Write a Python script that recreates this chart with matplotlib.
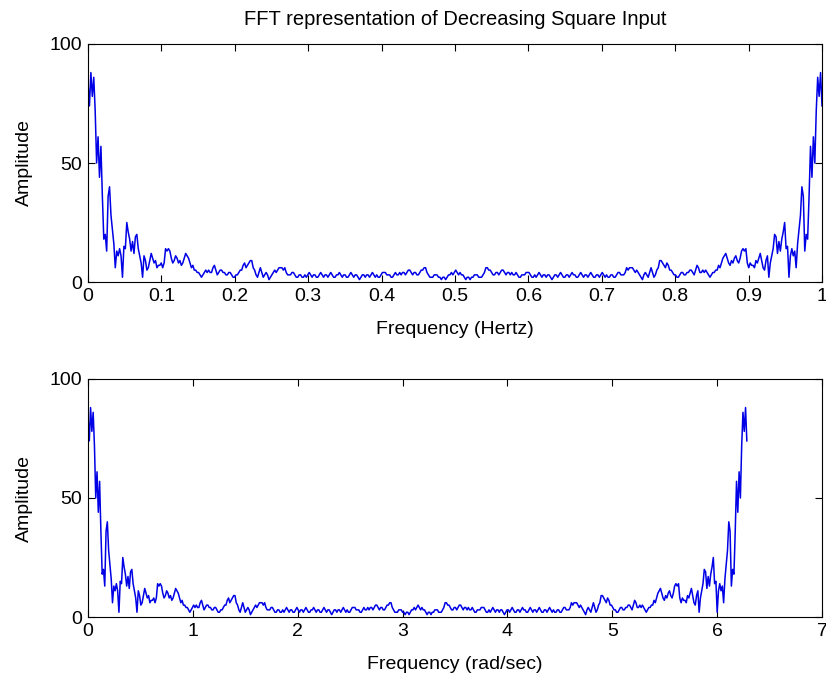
import numpy as np
import matplotlib
matplotlib.use("Agg")
import matplotlib.pyplot as plt

# FFT magnitude of the decreasing square input, bins 0..N/2 (N = 512).
# The spectrum of a real signal is conjugate-symmetric, so the upper half
# of the bins mirrors these values.
half_amplitude = [
    84, 74, 88, 78, 86, 72, 50, 61, 44, 57,
    36, 18, 20, 13, 36, 40, 28, 22, 16, 6,
    13, 11, 14, 11, 2, 15, 14, 25, 21, 18,
    13, 17, 12, 19, 20, 14, 11, 8, 2, 11,
    9, 5, 6, 9, 12, 10, 8, 9, 6, 7,
    7, 8, 6, 8, 14, 13, 14, 13, 10, 8,
    9, 11, 10, 8, 9, 7, 8, 10, 12, 11,
    10, 8, 6, 7, 5, 5, 4, 4, 3, 2,
    3, 4, 5, 4, 5, 4, 4, 6, 7, 5,
    3, 4, 5, 5, 4, 4, 3, 3, 4, 4,
    3, 2, 2, 3, 3, 4, 5, 5, 7, 8,
    6, 7, 8, 9, 9, 6, 5, 3, 2, 4,
    6, 4, 2, 3, 4, 3, 1, 2, 3, 4,
    5, 4, 5, 6, 6, 6, 5, 6, 4, 3,
    3, 3, 4, 4, 3, 2, 2, 3, 3, 2,
    2, 3, 2, 3, 4, 3, 2, 3, 3, 2,
    2, 3, 4, 3, 2, 3, 3, 2, 3, 4,
    3, 2, 2, 3, 3, 4, 3, 2, 3, 3,
    2, 2, 3, 4, 3, 2, 3, 3, 2, 1,
    2, 3, 3, 2, 3, 3, 2, 3, 4, 3,
    2, 3, 2, 2, 3, 4, 4, 4, 3, 3,
    3, 2, 2, 3, 4, 3, 3, 4, 3, 4,
    4, 3, 4, 5, 5, 4, 3, 4, 4, 3,
    3, 4, 5, 5, 6, 6, 4, 3, 2, 2,
    2, 3, 3, 3, 2, 2, 1, 2, 2, 1,
    2, 3, 3, 4, 3, 4, 5,
]

hz_ticks = [0, 0.1, 0.2, 0.3, 0.4, 0.5, 0.6, 0.7, 0.8, 0.9, 1]
hz_tick_labels = ["0", "0.1", "0.2", "0.3", "0.4", "0.5", "0.6", "0.7", "0.8", "0.9", "1"]
rad_ticks = [0, 1, 2, 3, 4, 5, 6, 7]
amp_ticks = [0, 50, 100]

title_text = "FFT representation of Decreasing Square Input"
xlabel_hz = "Frequency (Hertz)"
xlabel_rad = "Frequency (rad/sec)"
ylabel_text = "Amplitude"

# Full spectrum: bins 0..N/2 followed by the mirrored bins N/2-1..1
half = np.asarray(half_amplitude, dtype=float)
amplitude = np.concatenate([half, half[-2:0:-1]])
n = amplitude.size
freq_hz = np.linspace(0, 1, n)
freq_rad = 2 * np.pi * freq_hz

plt.rcParams["font.family"] = ["Liberation Sans", "DejaVu Sans"]
plt.rcParams["font.size"] = 14

fig = plt.figure(figsize=(8.26, 6.82), dpi=100)
ax1 = fig.add_axes([88 / 826, 1 - 282 / 682, 734 / 826, 238 / 682])
ax2 = fig.add_axes([88 / 826, 1 - 617 / 682, 734 / 826, 238 / 682])

line_color = (0, 0, 0.9)

ax1.plot(freq_hz, amplitude, color=line_color, linewidth=1.1)
ax1.set_xlim(0, 1)
ax1.set_ylim(0, 100)
ax1.set_xticks(hz_ticks)
ax1.set_xticklabels(hz_tick_labels)
ax1.set_yticks(amp_ticks)
ax1.set_xlabel(xlabel_hz, labelpad=12)
ax1.set_ylabel(ylabel_text, labelpad=12)
ax1.set_title(title_text, fontsize=14.5, pad=14)

ax2.plot(freq_rad, amplitude, color=line_color, linewidth=1.1)
ax2.set_xlim(0, 7)
ax2.set_ylim(0, 100)
ax2.set_xticks(rad_ticks)
ax2.set_yticks(amp_ticks)
ax2.set_xlabel(xlabel_rad, labelpad=12)
ax2.set_ylabel(ylabel_text, labelpad=12)

for ax in (ax1, ax2):
    ax.tick_params(direction="in", top=True, right=True, length=5, width=0.8,
                   labelsize=14, pad=4)
    for spine in ax.spines.values():
        spine.set_linewidth(0.8)

fig.savefig("out.png", dpi=100)
